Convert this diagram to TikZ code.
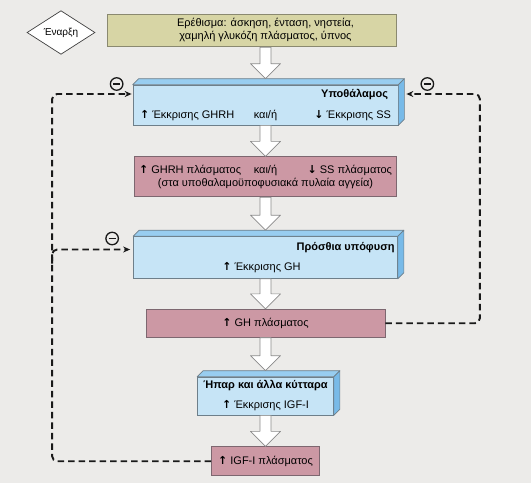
\documentclass[tikz,border=0pt]{standalone}
\usepackage{fontspec}
\setmainfont{Liberation Sans}
\newfontfamily\arrowfont{DejaVu Sans}
\usetikzlibrary{arrows.meta,shapes.geometric,positioning,calc}

\definecolor{bgcol}{HTML}{ECEBE9}
\definecolor{stimfill}{HTML}{D7D5A5}
\definecolor{stimline}{HTML}{8A8970}
\definecolor{slabfront}{HTML}{C6E4F6}
\definecolor{slabtop}{HTML}{98CDF0}
\definecolor{slabside}{HTML}{78BAE8}
\definecolor{slabline}{HTML}{6E7F8A}
\definecolor{plasmafill}{HTML}{CC98A4}
\definecolor{plasmaline}{HTML}{7D6770}
\definecolor{arrowline}{HTML}{8A8A8A}

\newcommand\rise{{\arrowfont\bfseries ↑}}
\newcommand\fall{{\arrowfont\bfseries ↓}}
% top and side faces of a 3d box
\newcommand\slabfaces[1]{%
  \filldraw[draw=slabline,fill=slabtop,line width=.7pt,line join=round]
    (#1.north west) -- ++(6,6) -- ([shift={(6,6)}]#1.north east) -- (#1.north east) -- cycle;
  \filldraw[draw=slabline,fill=slabside,line width=.7pt,line join=round]
    (#1.north east) -- ++(6,6) -- ([shift={(6,6)}]#1.south east) -- (#1.south east) -- cycle;}
% hollow block arrow between two boxes
\newcommand\flowarrow[2]{%
  \draw[hollow] let \p1=(#1), \p2=(#2) in
    (\x1-5.5pt,\y1) -- (\x1+5.5pt,\y1) -- (\x1+5.5pt,\y2+15pt) -- (\x1+15pt,\y2+15pt)
    -- (\x1,\y2) -- (\x1-15pt,\y2+15pt) -- (\x1-5.5pt,\y2+15pt) -- cycle;}

\begin{document}
\begin{tikzpicture}[x=1pt,y=1pt,font=\fontsize{11}{12.5}\selectfont,
    start/.style={diamond,draw=black!75,fill=white,line width=.7pt,inner sep=0pt,
      minimum width=68pt,minimum height=35pt,font=\fontsize{10}{12}\selectfont},
    stimbox/.style={rectangle,draw=stimline,fill=stimfill,line width=.8pt,
      minimum width=289pt,minimum height=32.7pt,inner sep=0pt},
    slab/.style={rectangle,draw=slabline,fill=slabfront,line width=.7pt,inner sep=0pt},
    plasma/.style={rectangle,draw=plasmaline,fill=plasmafill,line width=.8pt,inner sep=0pt},
    hollow/.style={draw=arrowline,fill=white,line width=.7pt,line join=round},
    feedback/.style={draw=black!90,line width=1.9pt,dash pattern=on 6.5pt off 4pt,
      rounded corners=5pt,-{Stealth[length=7pt,width=6pt]}},
    minus/.style={circle,draw=black!90,line width=1.3pt,minimum size=12.5pt,inner sep=0pt,
      path picture={\draw[line width=1.6pt]
        ([xshift=-3.5pt]path picture bounding box.center) -- ([xshift=3.5pt]path picture bounding box.center);}}]
  \fill[bgcol] (0,0) rectangle (531,-483);
  \useasboundingbox (0,0) rectangle (531,-483);

  \node[start] (start) at (61,-32.5) {Έναρξη};
  \node[stimbox] (stim) at (251.5,-30.4)
    {\hspace*{28pt}\begin{tabular}{@{}c@{}}Ερέθισμα: άσκηση, ένταση, νηστεία,\\χαμηλή γλυκόζη πλάσματος, ύπνος\end{tabular}};

  \node[slab,minimum width=265pt,minimum height=40pt] (hypo) at (265.5,-105)
    {\parbox{251pt}{\raggedleft\textbf{Υποθάλαμος}\hspace*{3pt}\par\vspace{8.5pt}\noindent
      \makebox[0.42\linewidth][l]{\rise\ Έκκρισης GHRH}\makebox[0.16\linewidth][c]{και/ή}\makebox[0.42\linewidth][r]{\fall\ Έκκρισης SS}}};
  \node[plasma,minimum width=262pt,minimum height=40pt] (plasma1) [below=31pt of hypo]
    {\parbox{253pt}{\noindent\makebox[0.42\linewidth][l]{\rise\ GHRH πλάσματος}\makebox[0.16\linewidth][c]{και/ή}\makebox[0.42\linewidth][r]{\fall\ SS πλάσματος}\par
      \centering(στα υποθαλαμοϋποφυσιακά πυλαία αγγεία)}};
  \node[slab,minimum width=264pt,minimum height=42pt] (pit) [below=39pt of plasma1]
    {\parbox{258pt}{\raggedleft\textbf{Πρόσθια υπόφυση}\par\vspace{7.5pt}\centering\rise\ Έκκρισης GH\hspace*{8pt}}};
  \node[plasma,minimum width=239pt,minimum height=28pt] (gh) [below=30pt of pit] {\rise\ GH πλάσματος};
  \node[slab,minimum width=136pt,minimum height=38pt,align=center] (liver) [below=39pt of gh]
    {\textbf{Ήπαρ και άλλα κύτταρα}\\[7.5pt]\rise\ Έκκρισης IGF-I};
  \node[plasma,minimum width=108pt,minimum height=29pt] (igf) [below=31pt of liver] {\rise\ IGF-I πλάσματος};

  \slabfaces{hypo}
  \slabfaces{pit}
  \slabfaces{liver}

  \flowarrow{hypo.north |- stim.south}{[yshift=6pt]hypo.north}
  \flowarrow{hypo.south}{plasma1.north}
  \flowarrow{plasma1.south}{[yshift=6pt]pit.north}
  \flowarrow{pit.south}{gh.north}
  \flowarrow{gh.south}{[yshift=6pt]liver.north}
  \flowarrow{liver.south}{igf.north}

  % negative feedback
  \coordinate (hypoin) at ([shift={(-1,11)}]hypo.west);
  \coordinate (hypoout) at ([shift={(8,11)}]hypo.east);
  \coordinate (pitin) at ([shift={(-3,8)}]pit.west);
  \coordinate (leftrail) at ([xshift=-79.5pt]hypoin);
  \draw[feedback] (igf.west) -| (leftrail) -- (hypoin);
  \draw[feedback] ([yshift=-14pt]leftrail |- pitin) |- (pitin);
  \draw[feedback] (gh.east) -| ([xshift=73.5pt]hypoout) -- (hypoout);
  \node[minus] (minhypoL) at ([shift={(-15,10)}]hypoin) {};
  \node[minus] (minhypoR) at ([shift={(21,10)}]hypoout) {};
  \node[minus] (minpit) at ([shift={(-18,11)}]pitin) {};
\end{tikzpicture}
\end{document}
